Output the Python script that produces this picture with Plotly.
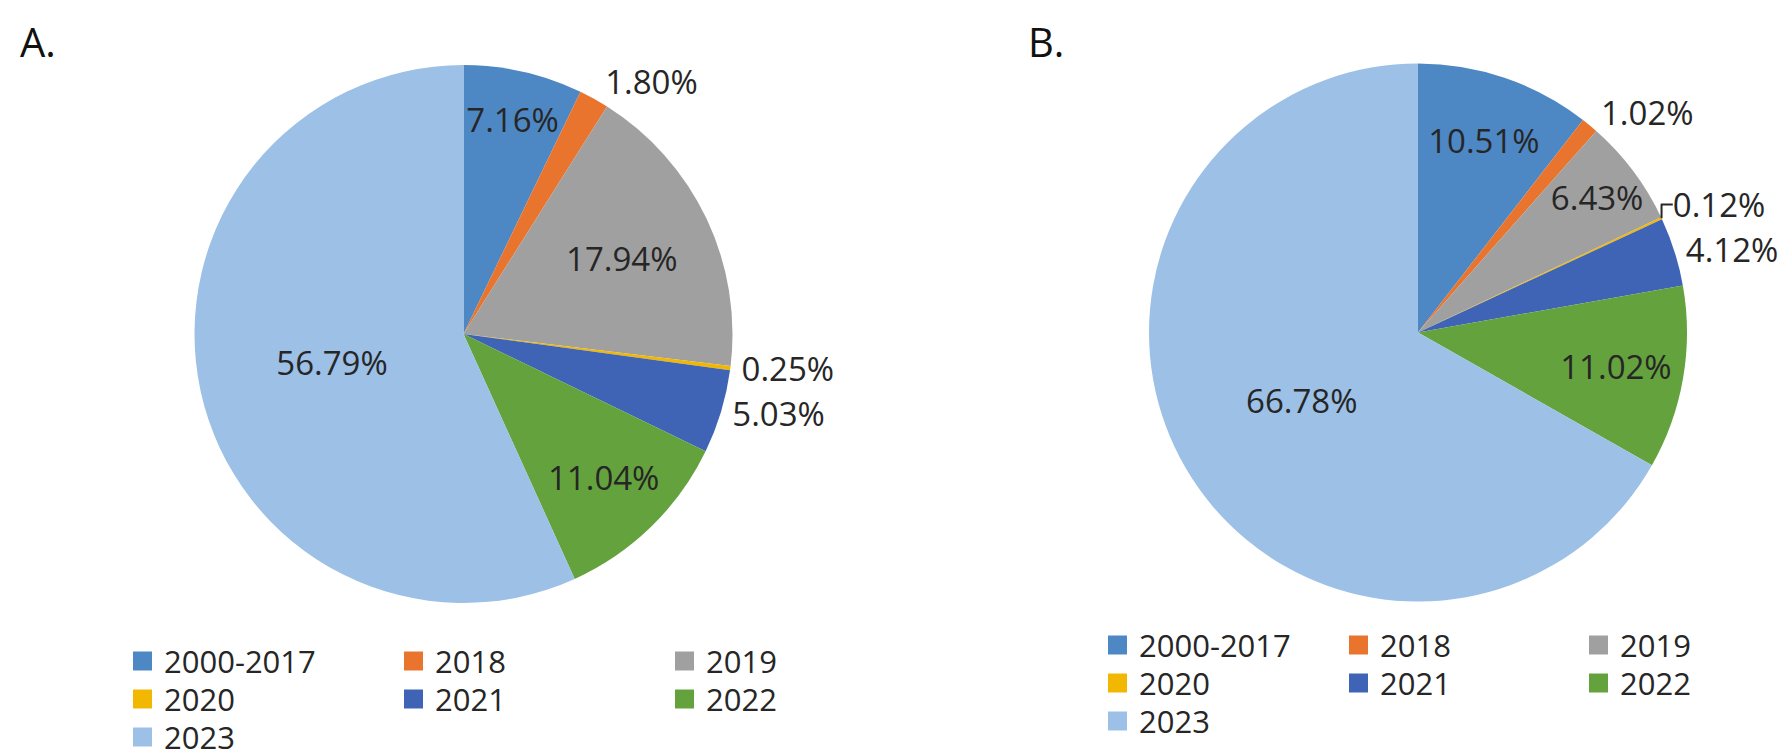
import plotly.graph_objects as go

# ---- data ----
categories = ["2000-2017", "2018", "2019", "2020", "2021", "2022", "2023"]
share_a = [7.16, 1.80, 17.94, 0.25, 5.03, 11.04, 56.79]
share_b = [10.51, 1.02, 6.43, 0.12, 4.12, 11.02, 66.78]
panel_titles = ["A.", "B."]

# ---- style ----
colors = ["#4E88C4", "#E8742D", "#A0A0A0", "#F2B700", "#3F64B6", "#64A23E", "#9CC0E6"]
label_pos = ["inside", "outside", "inside", "outside", "outside", "inside", "inside"]
W, H = 1792, 755
FONT = "Open Sans, Liberation Sans, sans-serif"
TXT = "#262626"

# pie geometry (pixel centre, radius)
pies = [
    dict(values=share_a, cx=455.5, cy=326, r=269),
    dict(values=share_b, cx=1410, cy=324.5, r=269),
]
# legend geometry per panel
legends = [
    dict(cols=[125, 396, 667], rows=[653, 691, 729]),
    dict(cols=[1100, 1341, 1581], rows=[637, 675, 713]),
]
title_pos = [(10, 33), (1018, 33)]

fig = go.Figure()
for p in pies:
    fig.add_trace(go.Pie(
        labels=categories,
        values=p["values"],
        sort=False,
        direction="clockwise",
        rotation=0,
        marker=dict(colors=colors, line=dict(width=0)),
        textposition=label_pos,
        texttemplate="%{value:.2f}%",
        insidetextorientation="horizontal",
        textfont=dict(family=FONT, size=33, color=TXT),
        insidetextfont=dict(family=FONT, size=33, color=TXT),
        outsidetextfont=dict(family=FONT, size=33, color=TXT),
        domain=dict(x=[(p["cx"] - p["r"]) / W, (p["cx"] + p["r"]) / W],
                    y=[1 - (p["cy"] + p["r"]) / H, 1 - (p["cy"] - p["r"]) / H]),
        showlegend=False,
        hovertemplate="%{label}: %{value:.2f}%<extra></extra>",
    ))

shapes = []
annotations = []
SQ = 19
for lg in legends:
    for i, cat in enumerate(categories):
        col, row = i % 3, i // 3
        x0 = lg["cols"][col]
        yc = lg["rows"][row]
        shapes.append(dict(type="rect", xref="paper", yref="paper",
                           x0=x0 / W, x1=(x0 + SQ) / W,
                           y0=1 - (yc + SQ / 2) / H, y1=1 - (yc - SQ / 2) / H,
                           fillcolor=colors[i], line=dict(width=0)))
        annotations.append(dict(xref="paper", yref="paper", x=(x0 + 29) / W, y=1 - yc / H,
                                xanchor="left", yanchor="middle", showarrow=False,
                                height=36, valign="middle",
                                text=cat, font=dict(family=FONT, size=31, color=TXT)))

for t, (tx, ty) in zip(panel_titles, title_pos):
    annotations.append(dict(xref="paper", yref="paper", x=tx / W, y=1 - ty / H,
                            xanchor="left", yanchor="middle", showarrow=False,
                            text=t, font=dict(family=FONT, size=40, color="#111111")))

fig.update_layout(
    width=W, height=H,
    margin=dict(l=0, r=0, t=0, b=0),
    paper_bgcolor="white",
    plot_bgcolor="white",
    uniformtext=dict(minsize=33, mode="show"),
    shapes=shapes,
    annotations=annotations,
)

fig.write_html("out.html")
